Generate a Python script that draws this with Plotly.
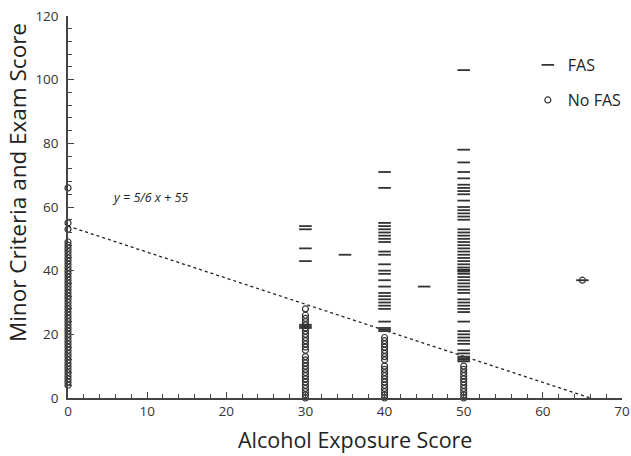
import plotly.graph_objects as go

# ---- data ----
fas_30 = [54, 53, 47, 43, 23, 22.5, 22]
fas_35 = [45]
fas_40 = [71, 66, 55, 54, 53, 52, 51, 50, 49, 46, 45, 42, 40, 39, 37, 35,
          33, 32, 31, 30, 29, 28, 24, 22, 21.5, 21]
fas_45 = [35]
fas_50 = [103, 78, 74, 71, 69, 67, 66, 65, 64, 62, 60, 59, 58, 57, 56, 53, 52,
          51, 50, 49, 48, 47, 46, 45, 44, 43, 42, 41, 40.3, 40, 39.7, 39, 38,
          37, 36, 35, 34, 33, 31, 30, 29, 28, 27, 24, 21, 20, 19, 18, 17, 15,
          14, 12.5, 12, 11.5, 13]
fas_65 = [37]

nofas_0 = [66, 55, 53, 49, 48, 47, 46, 45, 44, 43, 42, 41, 40, 39, 38, 37, 36,
           35, 34, 33, 32, 31, 30, 29, 28, 27, 26, 25, 24, 23, 22, 21, 20, 19,
           18, 17, 16, 15, 14, 13, 12, 11, 10, 9, 8, 7, 6, 5, 4]
nofas_30 = [28, 26, 25, 24, 23, 22, 21, 20, 19, 18, 17, 16, 15, 13, 12, 11,
            10, 9, 8, 7, 6, 5, 4, 3, 2, 1, 0]
nofas_40 = [19, 18, 17, 16, 15, 14, 13, 12, 10, 9, 8, 7, 6, 5, 4, 3, 2, 1, 0]
nofas_50 = [10, 9, 8, 7, 6, 5, 4, 3, 2, 1, 0]
nofas_65 = [37]

trend_x = [0, 66]
trend_y = [54, 0]
equation = "y = 5/6 x + 55"
x_title = "Alcohol Exposure Score"
y_title = "Minor Criteria and Exam Score"

fas_cols = {30: fas_30, 35: fas_35, 40: fas_40, 45: fas_45, 50: fas_50, 65: fas_65}
nofas_cols = {0: nofas_0, 30: nofas_30, 40: nofas_40, 50: nofas_50, 65: nofas_65}

fas_x, fas_y = [], []
for k, v in fas_cols.items():
    fas_x += [k] * len(v)
    fas_y += v
nofas_x, nofas_y = [], []
for k, v in nofas_cols.items():
    nofas_x += [k] * len(v)
    nofas_y += v

ink = "#333333"
font = "Open Sans"

fig = go.Figure()
fig.add_trace(go.Scatter(
    x=trend_x, y=trend_y, mode="lines", showlegend=False,
    line=dict(color="#222222", width=1.3, dash="dot"), hoverinfo="skip"))
fig.add_trace(go.Scatter(
    x=nofas_x, y=nofas_y, mode="markers", name="No FAS", legend="legend2",
    cliponaxis=False,
    marker=dict(symbol="circle-open", size=6, color=ink, line=dict(width=1.2, color=ink))))
fig.add_trace(go.Scatter(
    x=fas_x, y=fas_y, mode="markers", name="FAS", legend="legend",
    cliponaxis=False,
    marker=dict(symbol="line-ew", size=9, color=ink, line=dict(width=1.8, color=ink))))

fig.add_annotation(x=10.3, y=63, text="<i>" + equation + "</i>", showarrow=False,
                   font=dict(family=font, size=12.5, color="#222222"))
fig.add_annotation(xref="paper", yref="paper", x=0.518, y=-0.108, text=x_title,
                   showarrow=False, xanchor="center", yanchor="middle",
                   font=dict(family=font, size=21.5, color="#222222"))
fig.add_annotation(xref="paper", yref="paper", x=-0.09, y=0.563, text=y_title,
                   showarrow=False, textangle=-90, xanchor="center", yanchor="middle",
                   font=dict(family=font, size=22.5, color="#222222"))

axis_common = dict(showline=True, linecolor="#444444", linewidth=1.5, showgrid=False,
                   zeroline=False, ticks="inside", tickcolor="#444444", tickwidth=1.3,
                   ticklen=6, automargin=False, ticklabeloverflow="allow",
                   tickfont=dict(family=font, size=13.5, color="#333333"))

fig.update_layout(
    width=631, height=456,
    margin=dict(l=68, r=9, t=16, b=58, autoexpand=False),
    paper_bgcolor="white", plot_bgcolor="white",
    xaxis=dict(range=[0, 70], dtick=10, tick0=0,
               minor=dict(dtick=2, ticks="inside", ticklen=4, tickcolor="#444444", tickwidth=1.1),
               **axis_common),
    yaxis=dict(range=[0, 120], dtick=20, tick0=0, ticklabelstandoff=5,
               minor=dict(dtick=4, ticks="inside", ticklen=4, tickcolor="#444444", tickwidth=1.1),
               **axis_common),
    legend=dict(x=0.830, y=0.872, xanchor="left", yanchor="middle", bgcolor="rgba(0,0,0,0)",
                itemwidth=30, font=dict(family=font, size=16, color="#222222")),
    legend2=dict(x=0.830, y=0.78, xanchor="left", yanchor="middle", bgcolor="rgba(0,0,0,0)",
                 itemwidth=30, font=dict(family=font, size=16, color="#222222")),
)

fig.write_html("out.html", config={"displayModeBar": False},
               post_script="document.body.style.margin='0';")
